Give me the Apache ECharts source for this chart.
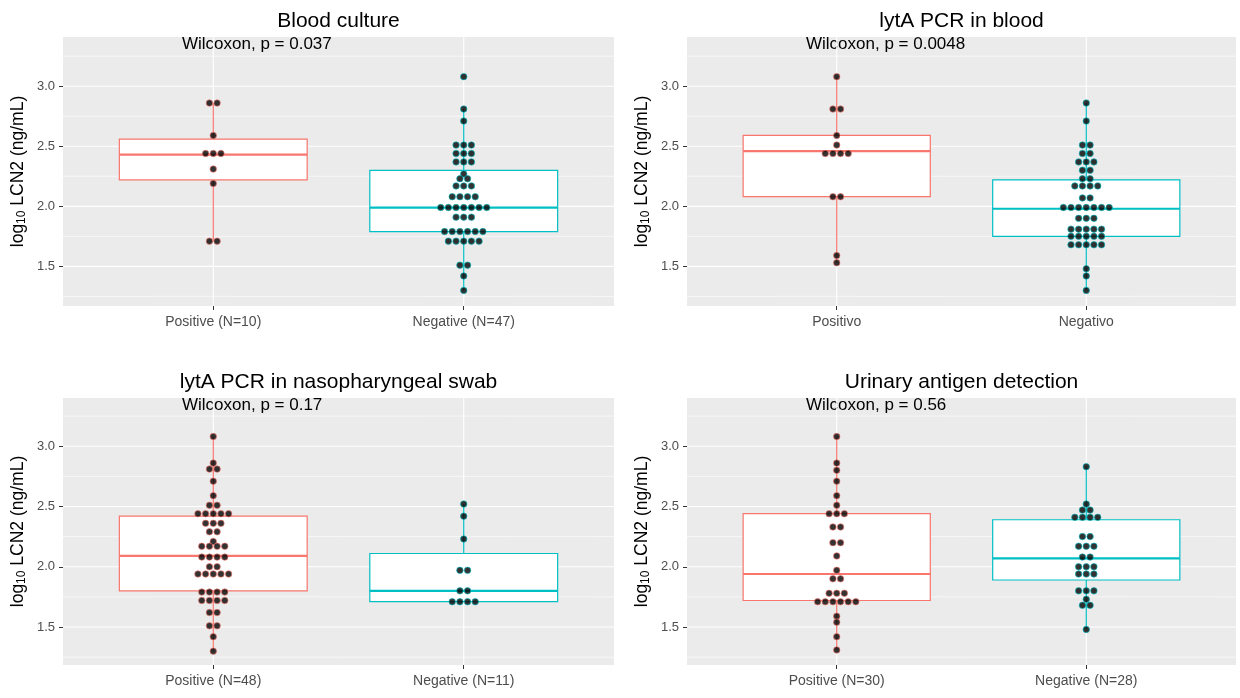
<!DOCTYPE html>
<html><head><meta charset="utf-8">
<script src="https://cdn.jsdelivr.net/npm/echarts@6/dist/echarts.min.js"></script>
<style>html,body{margin:0;padding:0;background:#fff}#c{width:1240px;height:698px}</style>
</head><body><div id="c"></div>
<script>
const FONT = '"Liberation Sans", Arial, Helvetica, sans-serif';

const panelTitles = ['Blood culture', 'lytA PCR in blood', 'lytA PCR in nasopharyngeal swab', 'Urinary antigen detection'];
const pValueLabels = ['Wilcoxon, p = 0.037', 'Wilcoxon, p = 0.0048', 'Wilcoxon, p = 0.17', 'Wilcoxon, p = 0.56'];
const xCategories = [
  ['Positive (N=10)', 'Negative (N=47)'],
  ['Positivo', 'Negativo'],
  ['Positive (N=48)', 'Negative (N=11)'],
  ['Positive (N=30)', 'Negative (N=28)']
];
const xPositions = [1, 2];
const yTicks = [1.5, 2.0, 2.5, 3.0];
const yMinorTicks = [1.25, 1.75, 2.25, 2.75, 3.25];
const groupColors = ['#F8766D', '#00BFC4'];

// Panel 1: Blood culture
const bloodPos = [2.86, 2.86, 2.59, 2.44, 2.44, 2.44, 2.31, 2.19, 1.71, 1.71];
const bloodNeg = [3.08, 2.81, 2.71, 2.51, 2.51, 2.51, 2.44, 2.44, 2.44, 2.37, 2.37, 2.37, 2.27, 2.23, 2.23,
  2.17, 2.17, 2.17, 2.08, 2.08, 2.08, 2.08, 1.99, 1.99, 1.99, 1.99, 1.99, 1.99, 1.99, 1.91, 1.91, 1.91,
  1.79, 1.79, 1.79, 1.79, 1.79, 1.79, 1.71, 1.71, 1.71, 1.71, 1.71, 1.51, 1.51, 1.42, 1.30];
const bloodBox = [[1.71, 2.22, 2.43, 2.56, 2.86], [1.30, 1.79, 1.99, 2.30, 2.81]];

// Panel 2: lytA PCR in blood
const pcrPos = [3.08, 2.81, 2.81, 2.59, 2.51, 2.44, 2.44, 2.44, 2.44, 2.08, 2.08, 1.59, 1.53];
const pcrNeg = [2.86, 2.71, 2.51, 2.51, 2.44, 2.44, 2.37, 2.37, 2.37, 2.30, 2.30, 2.23, 2.23,
  2.17, 2.17, 2.17, 2.17, 2.07, 2.07, 1.99, 1.99, 1.99, 1.99, 1.99, 1.99, 1.99, 1.90, 1.90, 1.90,
  1.81, 1.81, 1.81, 1.81, 1.81, 1.75, 1.75, 1.75, 1.75, 1.75, 1.68, 1.68, 1.68, 1.68, 1.68, 1.48, 1.42, 1.30];
const pcrBox = [[1.53, 2.08, 2.46, 2.59, 3.08], [1.30, 1.75, 1.98, 2.22, 2.86]];

// Panel 3: lytA PCR in nasopharyngeal swab
const nasoPos = [3.08, 2.86, 2.81, 2.81, 2.71, 2.59, 2.51, 2.51, 2.44, 2.44, 2.44, 2.44, 2.44,
  2.36, 2.36, 2.36, 2.29, 2.29, 2.21, 2.17, 2.17, 2.17, 2.17, 2.08, 2.08, 2.08, 2.08, 2.00, 2.00,
  1.94, 1.94, 1.94, 1.94, 1.94, 1.79, 1.79, 1.79, 1.79, 1.72, 1.72, 1.72, 1.72, 1.62, 1.62, 1.51, 1.51, 1.42, 1.30];
const nasoNeg = [2.52, 2.42, 2.23, 1.97, 1.97, 1.80, 1.80, 1.71, 1.71, 1.71, 1.71];
const nasoBox = [[1.30, 1.80, 2.09, 2.42, 3.08], [1.71, 1.71, 1.80, 2.11, 2.52]];

// Panel 4: Urinary antigen detection
const urinPos = [3.08, 2.86, 2.80, 2.71, 2.59, 2.51, 2.44, 2.44, 2.44, 2.33, 2.33, 2.20, 2.20, 2.09, 1.97,
  1.90, 1.90, 1.78, 1.78, 1.78, 1.71, 1.71, 1.71, 1.71, 1.71, 1.71, 1.59, 1.54, 1.42, 1.31];
const urinNeg = [2.83, 2.52, 2.47, 2.47, 2.41, 2.41, 2.41, 2.41, 2.25, 2.25, 2.17, 2.17, 2.17, 2.08, 2.08,
  2.00, 2.00, 2.00, 1.94, 1.94, 1.94, 1.80, 1.80, 1.80, 1.73, 1.68, 1.68, 1.48];
const urinBox = [[1.31, 1.72, 1.94, 2.44, 3.08], [1.48, 1.89, 2.07, 2.39, 2.83]];

const panelValues = [[bloodPos, bloodNeg], [pcrPos, pcrNeg], [nasoPos, nasoNeg], [urinPos, urinNeg]];
const panelBoxes = [bloodBox, pcrBox, nasoBox, urinBox];

// ---- layout (styles / positions) ----
const grids = [
  {left: 63, top: 37, width: 551, height: 269},
  {left: 687, top: 37, width: 549, height: 269},
  {left: 63, top: 398, width: 551, height: 267},
  {left: 687, top: 398, width: 549, height: 267}
];
const yRanges = [[1.17, 3.41], [1.17, 3.41], [1.185, 3.40], [1.185, 3.40]];
const DOT_STEP = 0.0306;  // horizontal stacking step of dots in x units
const BOX_HALF = 0.375;

function stackDots(values, center) {
  const counts = new Map();
  values.forEach(v => counts.set(v, (counts.get(v) || 0) + 1));
  const out = [];
  counts.forEach((n, v) => {
    for (let k = 0; k < n; k++) out.push([center + (k - (n - 1) / 2) * DOT_STEP, v]);
  });
  return out;
}

const xAxes = [], yAxes = [], series = [], graphics = [];
grids.forEach((g, i) => {
  xAxes.push({
    type: 'value', gridIndex: i, min: 0.4, max: 2.6,
    axisLine: {show: false},
    splitLine: {show: false},
    axisTick: {show: true, customValues: xPositions, length: 4, lineStyle: {color: '#333333', width: 1}},
    axisLabel: {customValues: xPositions, formatter: v => xCategories[i][Math.round(v) - 1],
      color: '#4D4D4D', fontSize: 14, fontFamily: FONT, margin: 9}
  });
  yAxes.push({
    type: 'value', gridIndex: i, min: yRanges[i][0], max: yRanges[i][1],
    axisLine: {show: false},
    splitLine: {show: false},
    axisTick: {show: true, customValues: yTicks, length: 4, lineStyle: {color: '#333333', width: 1}},
    axisLabel: {customValues: yTicks, formatter: v => v.toFixed(1),
      color: '#4D4D4D', fontSize: 13, fontFamily: FONT, margin: 8},
    name: '{a|log}{b|10}{a| LCN2 (ng/mL)}',
    nameLocation: 'middle', nameRotate: 90, nameGap: 35,
    nameTextStyle: {color: '#000', fontFamily: FONT,
      rich: {a: {fontSize: 17.5, fontFamily: FONT, color: '#000'},
             b: {fontSize: 12, fontFamily: FONT, color: '#000', padding: [8, 0, 0, 0]}}}
  });

  // background grid lines
  const gl = [];
  yTicks.forEach(v => gl.push([0, v]));
  yMinorTicks.forEach(v => gl.push([1, v]));
  xPositions.forEach(v => gl.push([2, v]));
  series.push({
    type: 'custom', xAxisIndex: i, yAxisIndex: i, z: 1, silent: true,
    data: gl,
    renderItem(params, api) {
      const cs = params.coordSys;
      const kind = api.value(0), v = api.value(1);
      if (kind === 2) {
        const x = api.coord([v, yRanges[i][0]])[0];
        return {type: 'line', shape: {x1: x, y1: cs.y, x2: x, y2: cs.y + cs.height},
          style: {stroke: '#FFFFFF', lineWidth: 1.1}};
      }
      const y = api.coord([1, v])[1];
      return {type: 'line', shape: {x1: cs.x, y1: y, x2: cs.x + cs.width, y2: y},
        style: {stroke: '#FFFFFF', lineWidth: kind === 0 ? 1.1 : 0.6}};
    }
  });

  // boxplots
  series.push({
    type: 'custom', xAxisIndex: i, yAxisIndex: i, z: 2, silent: true,
    data: panelBoxes[i].map((b, k) => [xPositions[k], b[0], b[1], b[2], b[3], b[4], k]),
    renderItem(params, api) {
      const x = api.value(0), mn = api.value(1), q1 = api.value(2), md = api.value(3),
            q3 = api.value(4), mx = api.value(5), k = api.value(6);
      const c = groupColors[k];
      const xc = api.coord([x, md])[0];
      const xl = api.coord([x - BOX_HALF, md])[0];
      const xr = api.coord([x + BOX_HALF, md])[0];
      const yMn = api.coord([x, mn])[1], yQ1 = api.coord([x, q1])[1], yMd = api.coord([x, md])[1],
            yQ3 = api.coord([x, q3])[1], yMx = api.coord([x, mx])[1];
      return {type: 'group', children: [
        {type: 'line', shape: {x1: xc, y1: yMx, x2: xc, y2: yQ3}, style: {stroke: c, lineWidth: 1.2}},
        {type: 'line', shape: {x1: xc, y1: yQ1, x2: xc, y2: yMn}, style: {stroke: c, lineWidth: 1.2}},
        {type: 'rect', shape: {x: xl, y: yQ3, width: xr - xl, height: yQ1 - yQ3},
          style: {fill: '#FFFFFF', stroke: c, lineWidth: 1.2}},
        {type: 'line', shape: {x1: xl, y1: yMd, x2: xr, y2: yMd}, style: {stroke: c, lineWidth: 2.2}}
      ]};
    }
  });

  // dots
  panelValues[i].forEach((vals, k) => {
    series.push({
      type: 'scatter', xAxisIndex: i, yAxisIndex: i, z: 3, silent: true,
      symbol: 'circle', symbolSize: 6.5,
      itemStyle: {color: '#000000', borderColor: groupColors[k], borderWidth: 0.8},
      data: stackDots(vals, xPositions[k])
    });
  });

  // titles and test labels
  graphics.push({
    type: 'text', x: g.left + g.width / 2, y: g.top - 16,
    style: {text: panelTitles[i], fontSize: 21, fontFamily: FONT, fill: '#000',
      textAlign: 'center', textVerticalAlign: 'middle'}
  });
  graphics.push({
    type: 'text', x: g.left + 119, y: g.top + 7,
    style: {text: pValueLabels[i], fontSize: 17, fontFamily: FONT, fill: '#000',
      textAlign: 'left', textVerticalAlign: 'middle'}
  });
});

const chart = echarts.init(document.getElementById('c'), null, {renderer: 'canvas'});
chart.setOption({
  animation: false,
  backgroundColor: '#FFFFFF',
  grid: grids.map(g => Object.assign({show: true, backgroundColor: '#EBEBEB', borderWidth: 0}, g)),
  xAxis: xAxes,
  yAxis: yAxes,
  series: series,
  graphic: graphics
});
</script></body></html>
